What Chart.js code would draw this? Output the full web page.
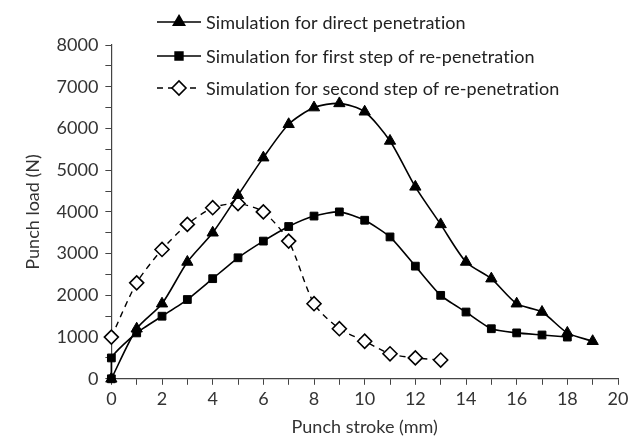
<!DOCTYPE html>
<html>
<head>
<meta charset="utf-8">
<script src="https://cdn.jsdelivr.net/npm/chart.js@4/dist/chart.umd.min.js"></script>
<style>
  html, body { margin: 0; padding: 0; background: #fff; }
  #wrap { width: 640px; height: 448px; }
</style>
</head>
<body>
<div id="wrap"><canvas id="chart" width="640" height="448"></canvas></div>
<script>
// punch stroke (mm) and punch load (N)
const directX = [0, 1, 2, 3, 4, 5, 6, 7, 8, 9, 10, 11, 12, 13, 14, 15, 16, 17, 18, 19];
const directY = [0, 1200, 1800, 2800, 3500, 4400, 5300, 6100, 6500, 6600, 6400, 5700, 4600, 3700, 2800, 2400, 1800, 1600, 1100, 900];

const firstX = [0, 0, 1, 2, 3, 4, 5, 6, 7, 8, 9, 10, 11, 12, 13, 14, 15, 16, 17, 18];
const firstY = [0, 500, 1100, 1500, 1900, 2400, 2900, 3300, 3650, 3900, 4000, 3800, 3400, 2700, 2000, 1600, 1200, 1100, 1050, 1000];

const secondX = [0, 1, 2, 3, 4, 5, 6, 7, 8, 9, 10, 11, 12, 13];
const secondY = [1000, 2300, 3100, 3700, 4100, 4200, 4000, 3300, 1800, 1200, 900, 600, 500, 450];

const seriesNames = [
  "Simulation for direct penetration",
  "Simulation for first step of re-penetration",
  "Simulation for second step of re-penetration"
];

const FONT = "Lato";

function pts(xs, ys) {
  return xs.map((x, i) => ({ x: x, y: ys[i] }));
}

// legend stacked at top, drawn over the plot like the original figure
const stackedLegend = {
  id: "stackedLegend",
  afterDraw(chart) {
    const ctx = chart.ctx;
    const rows = [22, 56, 88];
    ctx.save();
    chart.data.datasets.forEach((ds, i) => {
      const y = rows[i];
      ctx.strokeStyle = "#000";
      ctx.lineWidth = 1.6;
      ctx.setLineDash(ds.borderDash || []);
      ctx.beginPath();
      ctx.moveTo(157, y);
      ctx.lineTo(201, y);
      ctx.stroke();
      ctx.setLineDash([]);
      ctx.fillStyle = ds.pointBackgroundColor;
      ctx.strokeStyle = "#000";
      Chart.helpers.drawPoint(ctx, {
        pointStyle: ds.pointStyle,
        radius: ds.pointRadius,
        rotation: 0,
        borderWidth: ds.pointBorderWidth
      }, 179, y);
      ctx.fillStyle = "#222";
      ctx.font = "18px " + FONT;
      ctx.letterSpacing = "0.1px";
      ctx.textBaseline = "middle";
      ctx.textAlign = "left";
      ctx.fillText(seriesNames[i], 206, y + 1);
    });
    ctx.restore();
  }
};

const ctx = document.getElementById("chart").getContext("2d");
new Chart(ctx, {
  type: "line",
  data: {
    datasets: [
      {
        label: seriesNames[0],
        data: pts(directX, directY),
        borderColor: "#000",
        borderWidth: 1.6,
        tension: 0.25,
        clip: false,
        pointStyle: "triangle",
        pointRadius: 6.5,
        pointBackgroundColor: "#000",
        pointBorderColor: "#000",
        pointBorderWidth: 1
      },
      {
        label: seriesNames[1],
        data: pts(firstX, firstY),
        borderColor: "#000",
        borderWidth: 1.6,
        tension: 0.2,
        clip: false,
        pointStyle: "rect",
        pointRadius: 5.5,
        pointBackgroundColor: "#000",
        pointBorderColor: "#000",
        pointBorderWidth: 1
      },
      {
        label: seriesNames[2],
        data: pts(secondX, secondY),
        borderColor: "#000",
        borderWidth: 1.4,
        borderDash: [6, 5],
        tension: 0.25,
        clip: false,
        pointStyle: "rectRot",
        pointRadius: 7,
        pointBackgroundColor: "#fff",
        pointBorderColor: "#000",
        pointBorderWidth: 1.6
      }
    ]
  },
  options: {
    responsive: false,
    animation: false,
    layout: { padding: { top: 45, right: 22, left: 22, bottom: 10 } },
    plugins: {
      legend: { display: false },
      tooltip: { enabled: false }
    },
    scales: {
      x: {
        type: "linear",
        min: 0,
        max: 20,
        border: { color: "#444", width: 1.2 },
        grid: { drawOnChartArea: false, drawTicks: true, tickLength: 6, color: "#444" },
        ticks: {
          stepSize: 1,
          autoSkip: false,
          maxRotation: 0,
          color: "#333",
          font: { family: FONT, size: 18 },
          padding: 4,
          callback: v => (v % 2 === 0 ? v : "")
        },
        title: {
          display: true,
          text: "Punch stroke (mm)",
          color: "#333",
          font: { family: FONT, size: 18 },
          padding: { top: 2, bottom: 0 }
        }
      },
      y: {
        min: 0,
        max: 8000,
        border: { color: "#444", width: 1.2 },
        grid: { drawOnChartArea: false, drawTicks: true, tickLength: 6, color: "#444" },
        ticks: {
          stepSize: 500,
          autoSkip: false,
          color: "#333",
          font: { family: FONT, size: 18 },
          padding: 7,
          callback: v => (v % 1000 === 0 ? v : "")
        },
        title: {
          display: true,
          text: "Punch load (N)",
          color: "#333",
          font: { family: FONT, size: 18 },
          padding: { top: 0, bottom: 6 }
        }
      }
    }
  },
  plugins: [stackedLegend]
});
</script>
</body>
</html>
